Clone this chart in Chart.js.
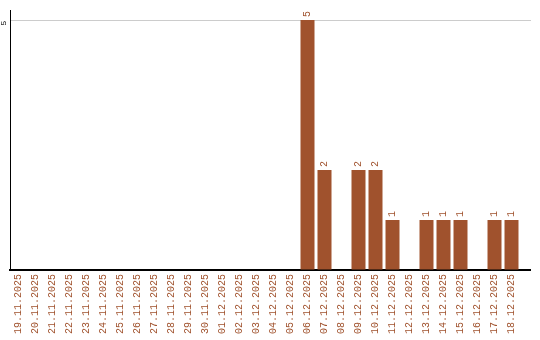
<!DOCTYPE html>
<html>
<head>
<meta charset="utf-8">
<script src="https://cdn.jsdelivr.net/npm/chart.js@4/dist/chart.umd.min.js"></script>
<style>
  html, body { margin: 0; padding: 0; background: #fff; }
  #wrap { width: 540px; height: 340px; }
</style>
</head>
<body>
<div id="wrap"><canvas id="chart"></canvas></div>
<script>
// dates on the x axis
const days = [
    '19.11.2025', '20.11.2025', '21.11.2025', '22.11.2025', '23.11.2025',
    '24.11.2025', '25.11.2025', '26.11.2025', '27.11.2025', '28.11.2025',
    '29.11.2025', '30.11.2025', '01.12.2025', '02.12.2025', '03.12.2025',
    '04.12.2025', '05.12.2025', '06.12.2025', '07.12.2025', '08.12.2025',
    '09.12.2025', '10.12.2025', '11.12.2025', '12.12.2025', '13.12.2025',
    '14.12.2025', '15.12.2025', '16.12.2025', '17.12.2025', '18.12.2025'
];
// counts per day
const counts = [
    0, 0, 0, 0, 0,
    0, 0, 0, 0, 0,
    0, 0, 0, 0, 0,
    0, 0, 5, 2, 0,
    2, 2, 1, 0, 1,
    1, 1, 0, 1, 1
];
const yTicks = [5];

const BROWN = '#a0522d';
const MONO = '"Liberation Mono", monospace';

// value labels above bars, y tick text, and line extension to the right
const extras = {
    id: 'extras',
    afterDatasetsDraw(chart) {
        const ctx = chart.ctx;
        const meta = chart.getDatasetMeta(0);
        const area = chart.chartArea;
        const y = chart.scales.y;

        ctx.save();
        // stretch grid line and base line a little past the last bar
        ctx.lineWidth = 1;
        ctx.strokeStyle = '#cccccc';
        yTicks.forEach(v => {
            const py = Math.round(y.getPixelForValue(v)) + 0.5;
            ctx.beginPath();
            ctx.moveTo(area.right, py);
            ctx.lineTo(area.right + 11, py);
            ctx.stroke();
        });
        ctx.strokeStyle = '#000';
        ctx.lineWidth = 2;
        ctx.beginPath();
        ctx.moveTo(area.right - 1, area.bottom);
        ctx.lineTo(area.right + 11, area.bottom);
        ctx.stroke();

        // bar values
        ctx.fillStyle = BROWN;
        ctx.font = '10px ' + MONO;
        ctx.textAlign = 'left';
        ctx.textBaseline = 'middle';
        meta.data.forEach((bar, i) => {
            if (!counts[i]) return;
            ctx.save();
            ctx.translate(bar.x, bar.y - 3);
            ctx.rotate(-Math.PI / 2);
            ctx.fillText(String(counts[i]), 0, 0);
            ctx.restore();
        });

        // y tick labels, rotated
        ctx.fillStyle = '#000';
        ctx.font = '8px ' + MONO;
        ctx.textAlign = 'center';
        ctx.textBaseline = 'middle';
        yTicks.forEach(v => {
            ctx.save();
            ctx.translate(4, y.getPixelForValue(v) + 3);
            ctx.rotate(-Math.PI / 2);
            ctx.fillText(String(v), 0, 0);
            ctx.restore();
        });
        ctx.restore();
    }
};

new Chart(document.getElementById('chart'), {
    type: 'bar',
    data: {
        labels: days,
        datasets: [{
            data: counts,
            backgroundColor: BROWN,
            borderWidth: 0,
            barPercentage: 14 / 17,
            categoryPercentage: 1
        }]
    },
    options: {
        responsive: true,
        maintainAspectRatio: false,
        animation: false,
        layout: { padding: { left: 0, right: 20, top: 10, bottom: 0 } },
        plugins: { legend: { display: false }, tooltip: { enabled: false } },
        scales: {
            x: {
                afterFit(scale) { scale.height = 70; },
                grid: { display: false, drawTicks: false },
                border: { color: '#000', width: 2 },
                ticks: {
                    autoSkip: false,
                    minRotation: 90,
                    maxRotation: 90,
                    padding: 4,
                    color: BROWN,
                    font: { family: MONO, size: 10 }
                }
            },
            y: {
                min: 0,
                max: 5.2,
                afterFit(scale) { scale.width = 10; },
                afterBuildTicks(scale) {
                    scale.ticks = [0].concat(yTicks).map(v => ({ value: v }));
                },
                grid: {
                    color: ctx => ctx.tick && ctx.tick.value === 0 ? 'rgba(0,0,0,0)' : '#cccccc',
                    drawTicks: false
                },
                border: { color: '#000', width: 1 },
                ticks: { display: false }
            }
        }
    },
    plugins: [extras]
});
</script>
</body>
</html>
